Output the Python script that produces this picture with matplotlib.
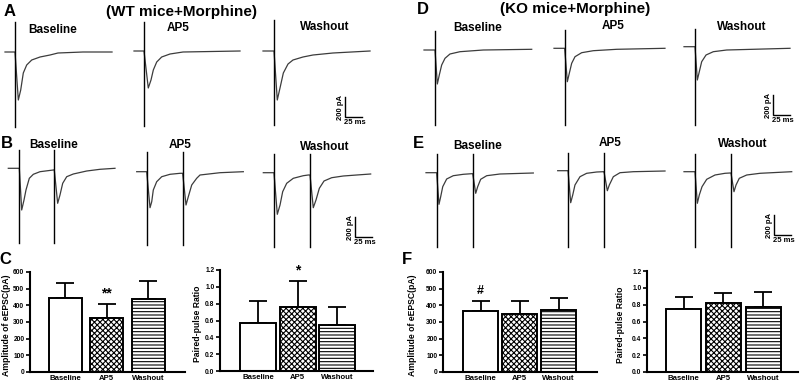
import matplotlib
matplotlib.use('Agg')
import matplotlib.pyplot as plt
import numpy as np

plt.rcParams['font.family'] = ['Liberation Sans', 'DejaVu Sans']
plt.rcParams['font.weight'] = 'bold'
plt.rcParams['hatch.linewidth'] = 0.8

# ---------------- data ----------------
conditions = ["Baseline", "AP5", "Washout"]

# Bar data (mean, upper SEM)
wt_amp_mean = [445, 326, 437]
wt_amp_sem = [91, 83, 107]
wt_ppr_mean = [0.572, 0.763, 0.544]
wt_ppr_sem = [0.262, 0.310, 0.211]
ko_amp_mean = [366, 350, 372]
ko_amp_sem = [63, 79, 71]
ko_ppr_mean = [0.752, 0.824, 0.772]
ko_ppr_sem = [0.135, 0.115, 0.175]

# Example traces: time (ms) and current (pA, relative to baseline)
# A: WT single pulse
A_base_t = [0, 14.7, 19.6, 23.1, 26.9, 31.9, 39.3, 51.5, 66.2, 77.9, 114.7, 157.4]
A_base_pA = [0, 0, -480, -380, -210, -130, -80, -50, -30, -10, 0, 0]
A_base_stim = [14.7]
A_base_art = [300, -750]
A_ap5_t = [0, 14.7, 21.0, 25.0, 28.4, 33.4, 40.7, 52.9, 72.1, 155.9]
A_ap5_pA = [0, 0, -370, -290, -190, -110, -60, -30, -10, 0]
A_ap5_stim = [14.7]
A_ap5_art = [290, -750]
A_wash_t = [0, 16.2, 21.0, 25.0, 29.9, 36.8, 44.1, 58.8, 73.5, 102.9, 157.4]
A_wash_pA = [0, 0, -490, -370, -220, -130, -90, -60, -40, -20, 0]
A_wash_stim = [16.2]
A_wash_art = [310, -740]

# B: WT paired pulse
B_base_t = [0, 16.2, 19.7, 23.1, 26.0, 30.9, 36.8, 46.6, 66.2, 67.6, 72.6, 76.0, 80.0, 85.9, 95.6, 115.3, 134.9, 156.9]
B_base_pA = [0, 0, -417, -317, -217, -100, -60, -34, -17, -15, -350, -267, -150, -84, -57, -27, -10, 0]
B_base_stim = [16.2, 67.6]
B_base_art = [180, -747]
B_ap5_t = [0, 14.7, 19.6, 22.1, 24.4, 29.4, 36.8, 49.0, 63.7, 67.6, 72.5, 75.9, 80.9, 88.2, 93.1, 122.5, 156.8]
B_ap5_pA = [0, 0, -360, -300, -183, -100, -50, -26, -16, -16, -333, -250, -133, -66, -33, -10, 0]
B_ap5_stim = [14.7, 67.6]
B_ap5_art = [200, -735]
B_wash_t = [0, 15.7, 20.6, 24.6, 28.5, 34.4, 44.1, 58.8, 66.2, 68.7, 73.5, 77.5, 82.4, 89.3, 100.6, 117.6, 137.4, 157.9]
B_wash_pA = [0, 0, -416, -323, -190, -106, -56, -30, -23, -23, -350, -273, -156, -83, -50, -33, -23, -13]
B_wash_stim = [15.7, 68.7]
B_wash_art = [184, -740]

# D: KO single pulse
D_base_t = [0, 16.2, 19.6, 22.5, 26.0, 30.9, 38.2, 52.9, 87.2, 158.4]
D_base_pA = [0, 0, -340, -250, -150, -83, -40, -17, 0, 7]
D_base_stim = [16.2]
D_base_art = [193, -750]
D_ap5_t = [0, 15.7, 19.6, 22.5, 26.0, 30.9, 40.7, 57.8, 92.2, 163.2]
D_ap5_pA = [0, 0, -334, -250, -150, -84, -44, -24, -10, 0]
D_ap5_stim = [15.7]
D_ap5_art = [183, -767]
D_wash_t = [0, 16.2, 19.6, 22.5, 26.0, 32.4, 43.1, 62.8, 155.9]
D_wash_pA = [0, 0, -333, -250, -150, -83, -50, -33, -16]
D_wash_stim = [16.2]
D_wash_art = [174, -783]

# E: KO paired pulse
E_base_t = [0, 15.7, 19.1, 21.6, 24.6, 30.4, 40.1, 54.9, 67.2, 68.7, 73.1, 76.0, 80.4, 89.3, 108.8, 157.8]
E_base_pA = [0, 0, -316, -240, -140, -63, -30, -16, -10, -10, -206, -140, -66, -30, -13, -3]
E_base_stim = [15.7, 68.7]
E_base_art = [184, -740]
E_ap5_t = [0, 15.2, 19.1, 22.1, 25.4, 32.8, 42.6, 57.4, 67.1, 68.1, 73.0, 75.9, 81.8, 91.6, 111.2, 157.8]
E_ap5_pA = [0, 0, -320, -243, -143, -60, -26, -13, -10, -10, -200, -143, -60, -20, -10, -3]
E_ap5_stim = [15.2, 68.1]
E_ap5_art = [174, -760]
E_wash_t = [0, 16.2, 19.6, 22.5, 26.5, 33.4, 45.6, 60.3, 67.6, 69.1, 73.5, 76.5, 81.3, 92.2, 111.8, 158.4]
E_wash_pA = [0, 0, -316, -233, -150, -76, -33, -16, -13, -13, -200, -133, -66, -33, -16, 0]
E_wash_stim = [16.2, 69.1]
E_wash_art = [174, -750]

SCALE_MS = 25
SCALE_PA = 200

# ---------------- layout ----------------
W, H = 800, 384
fig = plt.figure(figsize=(W / 100, H / 100), dpi=100)


def fx(x):
    return x / W


def fy(y):
    return 1 - y / H


def px_axes(left, top, right, bottom):
    return fig.add_axes([left / W, 1 - bottom / H, (right - left) / W, (bottom - top) / H])


# overlay axes for traces: x in ms, y in pA
PX_PER_MS = 0.68
PA_PER_PX = 10.0
tr = fig.add_axes([0, 0, 1, 1], zorder=0)
tr.set_xlim(0, W / PX_PER_MS)
tr.set_ylim(-H * PA_PER_PX, 0)
tr.axis('off')
tr.patch.set_visible(False)


def draw_trace(origin, t, pA, stims, art):
    x0 = origin[0] / PX_PER_MS
    y0 = -origin[1] * PA_PER_PX
    tr.plot(x0 + np.array(t), y0 + np.array(pA), color='#3c3c3c', lw=0.9,
            solid_joinstyle='round')
    for s in stims:
        tr.plot([x0 + s, x0 + s], [y0 + art[0], y0 + art[1]], color='black', lw=1.0)


def scale_bar(corner):
    x0 = corner[0] / PX_PER_MS
    y0 = -corner[1] * PA_PER_PX
    tr.plot([x0, x0, x0 + SCALE_MS], [y0 + SCALE_PA, y0, y0], color='black', lw=1.0,
            solid_joinstyle='miter')
    tr.text(x0 - 7, y0 + SCALE_PA / 2, f"{SCALE_PA} pA", rotation=90, ha='center',
            va='center', fontsize=5.5, fontweight='bold')
    tr.text(x0 + SCALE_MS / 2 + 2, y0 - 55, f"{SCALE_MS} ms", ha='center', va='center',
            fontsize=5.5, fontweight='bold')


traces = [
    ((5, 52), A_base_t, A_base_pA, A_base_stim, A_base_art),
    ((134, 51), A_ap5_t, A_ap5_pA, A_ap5_stim, A_ap5_art),
    ((263, 51), A_wash_t, A_wash_pA, A_wash_stim, A_wash_art),
    ((8.3, 168.3), B_base_t, B_base_pA, B_base_stim, B_base_art),
    ((136.7, 171.7), B_ap5_t, B_ap5_pA, B_ap5_stim, B_ap5_art),
    ((263.3, 172.7), B_wash_t, B_wash_pA, B_wash_stim, B_wash_art),
    ((424, 50), D_base_t, D_base_pA, D_base_stim, D_base_art),
    ((554, 48.3), D_ap5_t, D_ap5_pA, D_ap5_stim, D_ap5_art),
    ((684, 46.7), D_wash_t, D_wash_pA, D_wash_stim, D_wash_art),
    ((426, 172.7), E_base_t, E_base_pA, E_base_stim, E_base_art),
    ((557.7, 170.7), E_ap5_t, E_ap5_pA, E_ap5_stim, E_ap5_art),
    ((684, 171.7), E_wash_t, E_wash_pA, E_wash_stim, E_wash_art),
]
for tr_args in traces:
    draw_trace(*tr_args)

for corner in [(345, 117), (355, 237), (773, 115), (774, 235)]:
    scale_bar(corner)


def ftext(x, y, s, size, **kw):
    fig.text(fx(x), fy(y), s, fontsize=size, fontweight='bold', ha='center', va='center', **kw)


# panel letters and titles
ftext(10, 12, "A", 12)
ftext(7, 144, "B", 12)
ftext(423, 10, "D", 12)
ftext(418, 144, "E", 12)
ftext(5, 260, "C", 12)
ftext(407, 260, "F", 12)
ftext(182, 12, "(WT mice+Morphine)", 11)
ftext(575, 9, "(KO mice+Morphine)", 11)

cond_pos = [
    [(53, 30), (178, 28), (325, 27)],
    [(54, 145), (180, 145), (325, 147)],
    [(478, 28), (613, 26), (742, 27)],
    [(478, 146), (610, 143), (743, 144)],
]
for row in cond_pos:
    for (x, y), c in zip(row, conditions):
        ftext(x, y, c, 8.5)

# ---------------- bar panels ----------------
HATCHES = ['', 'xxxxxx', '-----']


def bar_panel(box, label_x, c0, step, width, ymax, ticks, fmt, means, sems, ylabel, marks):
    left, top, right, bottom = box
    ax = px_axes(left, top, right, bottom)
    x = np.arange(len(conditions))
    ax.set_xlim((left - c0) / step, (right - c0) / step)
    ax.set_ylim(0, ymax)
    ax.errorbar(x, means, yerr=[np.zeros(len(means)), sems], fmt='none', ecolor='black',
                elinewidth=1.3, capsize=6.5, capthick=1.3, zorder=1)
    bars = ax.bar(x, means, width=width / step, color='white', edgecolor='black',
                  linewidth=1.4, zorder=2)
    for b, h in zip(bars, HATCHES):
        b.set_hatch(h)
    for side in ['top', 'right']:
        ax.spines[side].set_visible(False)
    for side in ['left', 'bottom']:
        ax.spines[side].set_linewidth(1.5)
    ax.set_yticks(ticks)
    ax.set_yticklabels([fmt.format(v) for v in ticks], fontsize=4.8, fontweight='bold')
    ax.set_xticks(x)
    ax.set_xticklabels(conditions, fontsize=5.6, fontweight='bold')
    ax.tick_params(axis='y', direction='out', length=3, width=1.2, pad=1)
    ax.tick_params(axis='x', length=0, pad=2)
    ax.set_ylabel(ylabel, fontsize=6.2, fontweight='bold')
    ax.yaxis.set_label_coords((label_x - left) / (right - left), 0.47)
    ax.patch.set_visible(False)
    for i, m in marks:
        ax.text(x[i], means[i] + sems[i] + ymax * 0.035, m, ha='center', va='bottom',
                fontsize=10 if m != '#' else 9, fontweight='bold')
    return ax


amp_ticks = [0, 100, 200, 300, 400, 500, 600]
ppr_ticks = [0.0, 0.2, 0.4, 0.6, 0.8, 1.0, 1.2]

bar_panel((30, 272, 185, 372), 11, 65, 41.5, 33, 600, amp_ticks, "{:d}",
          wt_amp_mean, wt_amp_sem, "Amplitude of eEPSC(pA)", [(1, "**")])
bar_panel((220, 270, 373, 371), 202, 258, 39.5, 36, 1.2, ppr_ticks, "{:.1f}",
          wt_ppr_mean, wt_ppr_sem, "Paired-pulse Ratio", [(1, "*")])
bar_panel((443, 272, 597, 372), 417, 480.5, 39, 35, 600, amp_ticks, "{:d}",
          ko_amp_mean, ko_amp_sem, "Amplitude of eEPSC(pA)", [(0, "#")])
bar_panel((647, 271, 798, 372), 625, 683.5, 39.75, 35, 1.2, ppr_ticks, "{:.1f}",
          ko_ppr_mean, ko_ppr_sem, "Paired-pulse Ratio", [])

fig.savefig("out.png", dpi=100)
